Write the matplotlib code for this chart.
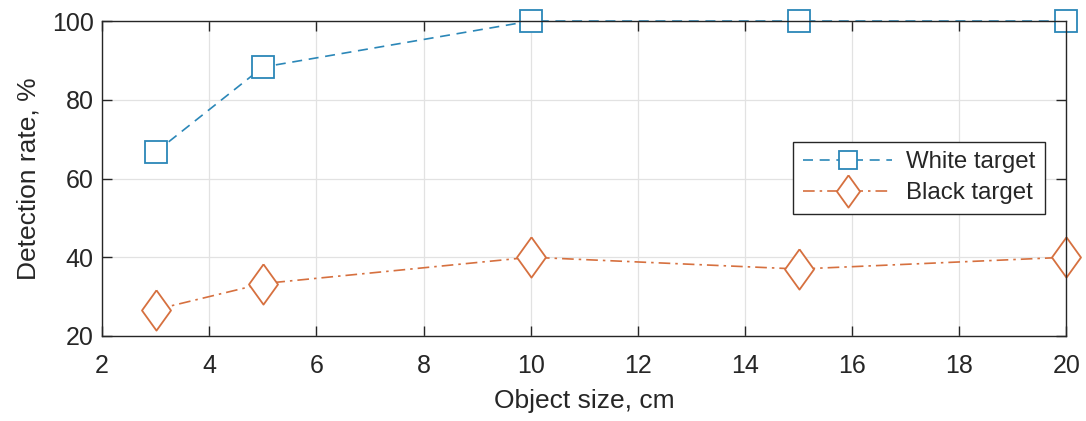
import matplotlib
matplotlib.use("Agg")
import matplotlib.pyplot as plt

# data
object_size = [3, 5, 10, 15, 20]
white_rate = [66.7, 88.3, 100, 100, 100]
black_rate = [26.7, 33.3, 40, 37, 40]
series_labels = ["White target", "Black target"]

plt.rcParams['font.family'] = ['Liberation Sans', 'DejaVu Sans']
dark = '#262626'
blue = '#2b87b8'
orange = '#d6703f'

# MATLAB-like diamond (taller than wide)
diamond = [(0, 1), (0.72, 0), (0, -1), (-0.72, 0), (0, 1)]

fig = plt.figure(figsize=(10.86, 4.21), dpi=100)
ax = fig.add_axes([0.094, 0.202, 0.888, 0.748])

ax.plot(object_size, white_rate, linestyle=(0, (6, 4)), color=blue, lw=1.2,
        marker='s', markersize=16.5, markerfacecolor='white', markeredgecolor=blue,
        markeredgewidth=1.3, label=series_labels[0])
ax.plot(object_size, black_rate, linestyle=(0, (7, 3, 1.5, 3)), color=orange, lw=1.2,
        marker=diamond, markersize=29, markerfacecolor='white', markeredgecolor=orange,
        markeredgewidth=1.3, label=series_labels[1])

ax.set_xlim(2, 20)
ax.set_ylim(20, 100)
ax.set_xticks(range(2, 21, 2))
ax.set_yticks(range(20, 101, 20))
ax.grid(True, color='#e2e2e2', lw=0.9)
ax.set_axisbelow(True)
ax.tick_params(direction='in', top=True, right=True, length=7, width=1,
               colors=dark, labelsize=18)
ax.tick_params(axis='x', pad=13)
ax.tick_params(axis='y', pad=6)
for s in ax.spines.values():
    s.set_color(dark)
    s.set_linewidth(1)
for m in ax.get_lines():
    m.set_clip_on(False)

ax.set_xlabel("Object size, cm", fontsize=19, color=dark, labelpad=8)
ax.set_ylabel("Detection rate, %", fontsize=19, color=dark, labelpad=8)

leg = ax.legend(loc='upper right', bbox_to_anchor=(0.978, 0.617), fontsize=17.3,
                fancybox=False, edgecolor=dark, framealpha=1, handlelength=3.7,
                borderpad=0.4, labelspacing=0.37, handletextpad=0.6, markerscale=0.8,
                borderaxespad=0)
leg.get_frame().set_linewidth(1)
for t in leg.get_texts():
    t.set_color(dark)

fig.savefig("out.png", dpi=100)
